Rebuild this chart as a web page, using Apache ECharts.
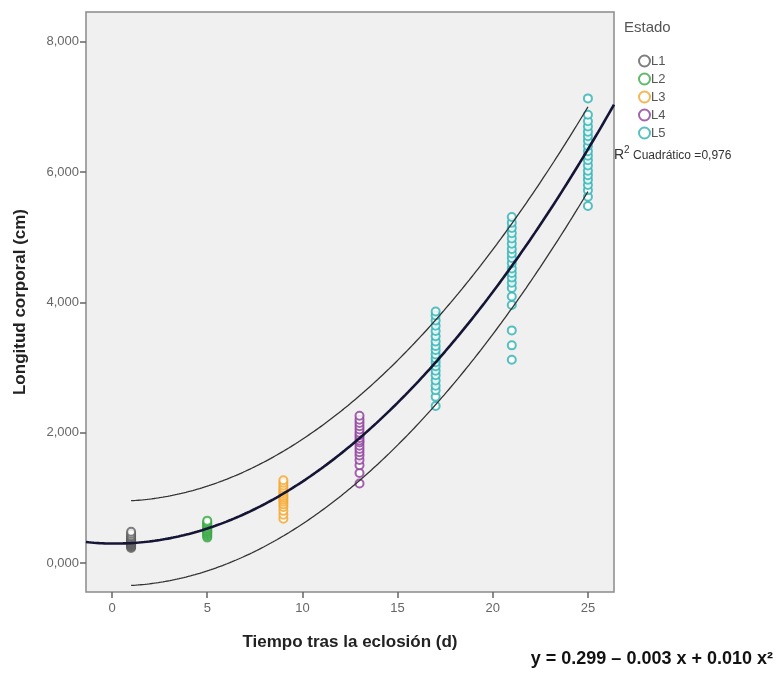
<!DOCTYPE html>
<html>
<head>
<meta charset="utf-8">
<script src="https://cdn.jsdelivr.net/npm/echarts@6/dist/echarts.min.js"></script>
<style>
  html, body { margin: 0; padding: 0; background: #ffffff; }
  #chart { width: 782px; height: 686px; }
</style>
</head>
<body>
<div id="chart"></div>
<script>
// Body length (cm) per larval stage, by days after hatching
const stageNames = ['L1', 'L2', 'L3', 'L4', 'L5'];
const stageColors = ['#5e5e5e', '#3aa845', '#f4a52b', '#8c3c98', '#2cb1b3'];

const l1Day = 1;
const l1Length = [0.23, 0.25, 0.26, 0.27, 0.28, 0.29, 0.30, 0.30, 0.31, 0.32, 0.33, 0.34, 0.35, 0.36, 0.37, 0.38, 0.40, 0.42, 0.45, 0.48];
const l2Day = 5;
const l2Length = [0.39, 0.41, 0.43, 0.45, 0.46, 0.48, 0.49, 0.50, 0.52, 0.53, 0.55, 0.57, 0.59, 0.61, 0.63, 0.65];
const l3Day = 9;
const l3Length = [0.68, 0.74, 0.80, 0.86, 0.90, 0.94, 0.97, 1.00, 1.03, 1.06, 1.09, 1.12, 1.15, 1.19, 1.23, 1.27];
const l4Day = 13;
const l4Length = [1.22, 1.38, 1.50, 1.58, 1.65, 1.70, 1.75, 1.80, 1.85, 1.88, 1.92, 1.96, 2.00, 2.05, 2.10, 2.15, 2.20, 2.26];
const l5Days = [17, 21, 25];
const l5LengthDay17 = [2.41, 2.55, 2.65, 2.72, 2.80, 2.88, 2.95, 3.02, 3.08, 3.14, 3.20, 3.27, 3.33, 3.40, 3.48, 3.56, 3.64, 3.72, 3.80, 3.86];
const l5LengthDay21 = [3.12, 3.34, 3.57, 3.96, 4.09, 4.22, 4.30, 4.38, 4.45, 4.52, 4.60, 4.68, 4.75, 4.82, 4.90, 4.98, 5.06, 5.14, 5.22, 5.31];
const l5LengthDay25 = [5.48, 5.62, 5.72, 5.80, 5.88, 5.95, 6.02, 6.10, 6.18, 6.25, 6.32, 6.40, 6.48, 6.55, 6.62, 6.70, 6.78, 6.88, 7.13];

// Quadratic fit y = b0 + b1 x + b2 x^2 and its prediction band half-width
const fitCoef = [0.299, -0.003, 0.0098];
const predHalfWidth = 0.65;
const rSquared = 0.976;

// Axis ranges and tick values
const xRange = [-1.37, 26.37];
const yRange = [-0.445, 8.456];
const xTicks = [0, 5, 10, 15, 20, 25];
const yTicks = [0, 2, 4, 6, 8];

function pts(day, arr) { return arr.map(v => [day, v]); }
const stageData = [
  pts(l1Day, l1Length),
  pts(l2Day, l2Length),
  pts(l3Day, l3Length),
  pts(l4Day, l4Length),
  [].concat(pts(l5Days[0], l5LengthDay17), pts(l5Days[1], l5LengthDay21), pts(l5Days[2], l5LengthDay25))
];

function fit(x) { return fitCoef[0] + fitCoef[1] * x + fitCoef[2] * x * x; }
function curve(x0, x1, offset) {
  const out = [];
  const n = 200;
  for (let i = 0; i <= n; i++) {
    const x = x0 + (x1 - x0) * i / n;
    out.push([x, fit(x) + offset]);
  }
  return out;
}

const fontFam = '"Liberation Sans", Arial, sans-serif';
const eqText = 'y = ' + fitCoef[0].toFixed(3) + ' \u2013 ' + Math.abs(fitCoef[1]).toFixed(3) + ' x + ' + fitCoef[2].toFixed(3) + ' x\u00B2';

const chart = echarts.init(document.getElementById('chart'));
const scatterSeries = stageNames.map((name, i) => ({
  name: name,
  type: 'scatter',
  data: stageData[i],
  symbol: 'emptyCircle',
  symbolSize: 8,
  itemStyle: { color: stageColors[i], borderColor: stageColors[i], borderWidth: 1.3 },
  z: 2
}));

chart.setOption({
  animation: false,
  backgroundColor: '#ffffff',
  textStyle: { fontFamily: fontFam },
  grid: {
    left: 86, top: 12, right: 168, bottom: 94,
    show: true, backgroundColor: '#f0f0f0', borderColor: '#8a8a8a', borderWidth: 1.5
  },
  legend: {
    orient: 'vertical',
    left: 633, top: 49,
    itemWidth: 11, itemHeight: 11, itemGap: 4,
    icon: 'emptyCircle',
    data: stageNames,
    textStyle: { color: '#555', fontSize: 13, lineHeight: 14, fontFamily: fontFam, padding: [0, 0, 0, -4] }
  },
  xAxis: {
    type: 'value', min: xRange[0], max: xRange[1],
    splitLine: { show: false },
    axisLine: { show: false, onZero: false },
    axisTick: { show: true, customValues: xTicks, length: 6, lineStyle: { color: '#666', width: 1.5 } },
    axisLabel: { customValues: xTicks, color: '#666', fontSize: 13, margin: 10 },
    name: 'Tiempo tras la eclosión (d)',
    nameLocation: 'middle', nameGap: 42,
    nameTextStyle: { fontSize: 17, fontWeight: 'bold', color: '#222' }
  },
  yAxis: {
    type: 'value', min: yRange[0], max: yRange[1],
    splitLine: { show: false },
    axisLine: { show: false, onZero: false },
    axisTick: { show: true, customValues: yTicks, length: 6, lineStyle: { color: '#666', width: 1.5 } },
    axisLabel: {
      customValues: yTicks, color: '#666', fontSize: 13, margin: 7,
      formatter: v => v.toFixed(3).replace('.', ',')
    },
    name: 'Longitud corporal (cm)',
    nameLocation: 'middle', nameGap: 57, nameRotate: 90,
    nameTextStyle: { fontSize: 17, fontWeight: 'bold', color: '#222' }
  },
  series: scatterSeries.concat([
    {
      name: 'fit', type: 'line', data: curve(xRange[0], xRange[1], 0),
      showSymbol: false, symbol: 'none', lineStyle: { color: '#151535', width: 2.6 }, z: 5, silent: true
    },
    {
      name: 'upper', type: 'line', data: curve(1, 25, predHalfWidth),
      showSymbol: false, symbol: 'none', lineStyle: { color: '#333', width: 1.3 }, z: 4, silent: true
    },
    {
      name: 'lower', type: 'line', data: curve(1, 25, -predHalfWidth),
      showSymbol: false, symbol: 'none', lineStyle: { color: '#333', width: 1.3 }, z: 4, silent: true
    }
  ]),
  graphic: [
    {
      type: 'text', left: 624, top: 20,
      style: { text: 'Estado', fontSize: 15, fill: '#555', fontFamily: fontFam }
    },
    {
      type: 'text', left: 614, top: 145,
      style: {
        text: '{r|R}{s|2}{t| Cuadrático =' + rSquared.toFixed(3).replace('.', ',') + '}',
        fontFamily: fontFam,
        rich: {
          r: { fontSize: 14, fill: '#333', verticalAlign: 'bottom' },
          s: { fontSize: 10, fill: '#333', verticalAlign: 'top', padding: [0, 0, 7, 0] },
          t: { fontSize: 12, fill: '#333', verticalAlign: 'bottom' }
        }
      }
    },
    {
      type: 'text', right: 9, top: 650,
      style: { text: eqText, fontSize: 18, fontWeight: 'bold', fill: '#111', fontFamily: fontFam }
    }
  ]
});
</script>
</body>
</html>
